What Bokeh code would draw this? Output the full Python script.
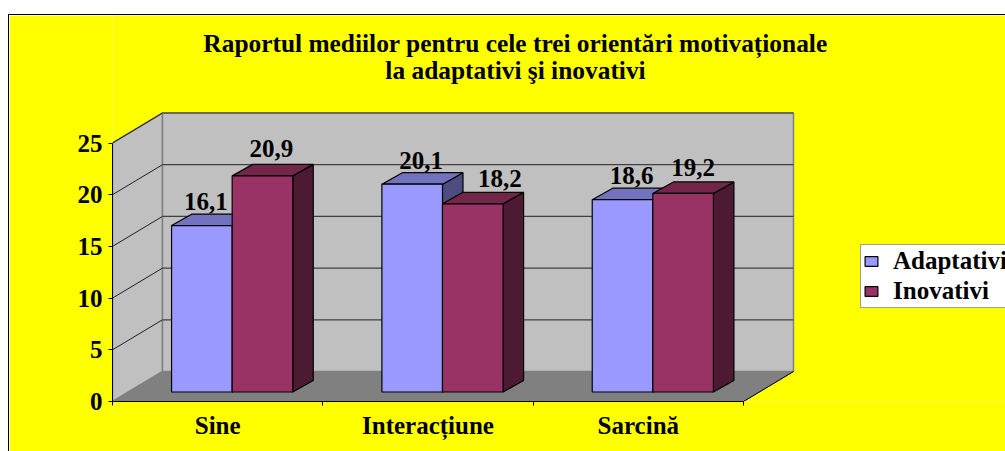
from bokeh.plotting import figure
from bokeh.models import (Range1d, LinearAxis, FixedTicker, Legend, LegendItem, Label)
from bokeh.core.properties import value
from bokeh.embed import file_html
from bokeh.resources import INLINE

categories = ["Sine", "Interacțiune", "Sarcină"]
adaptativi = [16.1, 20.1, 18.6]
inovativi = [20.9, 18.2, 19.2]
y_ticks = [0, 5, 10, 15, 20, 25]
title_lines = ["Raportul mediilor pentru cele trei orientări motivaționale",
               "la adaptativi şi inovativi"]
series_names = ["Adaptativi", "Inovativi"]

FONT = "Liberation Serif"
PX_X = 210.33   # pixels per category
PX_Y = 10.34    # pixels per value unit
LEFT, BOTTOM, TOP, RIGHT = 112, 401, 15, 1006
DX, DY = 50 / PX_X, 30 / PX_Y            # depth of the box
BDX, BDY = 20.5 / PX_X, 11.5 / PX_Y      # depth of a bar
BAR_W = 60.6 / PX_X
BAR_SHIFT = 14.5 / PX_X
BASE = 9.5 / PX_Y
YMAX = 25
N = len(categories)

X = lambda px: (px - LEFT) / PX_X
Y = lambda py: (BOTTOM - py) / PX_Y

p = figure(width=997, height=437, output_backend="svg", toolbar_location=None,
           x_range=Range1d(0, X(RIGHT)), y_range=Range1d(0, Y(TOP)),
           min_border_left=103, min_border_right=0, min_border_top=0,
           min_border_bottom=51, x_axis_location=None, y_axis_location=None,
           background_fill_color="#ffff00", border_fill_color="#ffff00",
           outline_line_color=None, margin=(14, 0, 0, 8),
           styles={"border-left": "1px solid #000", "border-top": "1px solid #000",
                   "box-sizing": "border-box"})
p.grid.visible = False

# walls and floor
p.patch([0, DX, DX, 0], [0, DY, YMAX + DY, YMAX], fill_color="#c0c0c0", line_color="#808080", line_width=1.5)
p.patch([DX, N + DX, N + DX, DX], [DY, DY, YMAX + DY, YMAX + DY], fill_color="#c0c0c0", line_color="#808080", line_width=1.5)
p.patch([0, N, N + DX, DX], [0, 0, DY, DY], fill_color="#808080", line_color="#808080")
p.line([N, N + DX], [0, DY], line_color="#000000", line_width=1)
for v in y_ticks[1:]:
    p.line([0, DX], [v, v + DY], line_color="#202020", line_width=1)
    p.line([DX, N + DX], [v + DY, v + DY], line_color="#404040", line_width=1.2)

# bars
colors = {"front": ["#9999ff", "#993366"], "top": ["#7272bf", "#732649"], "side": ["#4c4c80", "#4d1a33"]}
renderers = []
for i in range(N):
    cx = i + 0.5 + BAR_SHIFT
    for s, vals in enumerate([adaptativi, inovativi]):
        v = vals[i]
        x0 = cx + (s - 1) * BAR_W
        x1 = x0 + BAR_W
        y0, y1 = BASE, BASE + v
        p.patch([x1, x1 + BDX, x1 + BDX, x1], [y0, y0 + BDY, y1 + BDY, y1],
                fill_color=colors["side"][s], line_color="#000000", line_width=1.2)
        p.patch([x0, x1, x1 + BDX, x0 + BDX], [y1, y1, y1 + BDY, y1 + BDY],
                fill_color=colors["top"][s], line_color="#000000", line_width=1.2)
        r = p.patch([x0, x1, x1, x0], [y0, y0, y1, y1],
                    fill_color=colors["front"][s], line_color="#000000", line_width=1.2)
        if i == 0:
            renderers.append(r)

# value labels
label_dx = [[4, 9], [9, 27], [9, 10]]
label_dy = [24, 27, 24, 25, 24, 26]
xs, ys, txt = [], [], []
k = 0
for i in range(N):
    for s, vals in enumerate([adaptativi, inovativi]):
        xs.append(i + 0.5 + BAR_SHIFT + (s - 0.5) * BAR_W + label_dx[i][s] / PX_X)
        ys.append(BASE + vals[i] + label_dy[k] / PX_Y)
        txt.append(str(vals[i]).replace(".", ","))
        k += 1
p.text(xs, ys, txt, text_font=value(FONT), text_font_style="bold", text_font_size="25px",
       text_align="center", text_baseline="alphabetic", text_color="#000000")

# axes
yax = LinearAxis(ticker=FixedTicker(ticks=y_ticks), bounds=(0, YMAX),
                 major_label_text_font=FONT, major_label_text_font_style="bold",
                 major_label_text_font_size="25px", major_label_text_color="#000000",
                 major_tick_in=0, major_tick_out=4, minor_tick_line_color=None,
                 axis_line_color="#000000", major_tick_line_color="#000000",
                 major_label_standoff=6)
xax = LinearAxis(ticker=FixedTicker(ticks=[i + 0.5 for i in range(N)], minor_ticks=list(range(N + 1))),
                 bounds=(0, N),
                 major_label_overrides={i + 0.5: c for i, c in enumerate(categories)},
                 major_label_text_font=FONT, major_label_text_font_style="bold",
                 major_label_text_font_size="25px", major_label_text_color="#000000",
                 major_tick_line_color=None, minor_tick_in=0, minor_tick_out=4,
                 minor_tick_line_color="#000000", axis_line_color="#000000",
                 major_label_standoff=4)
p.add_layout(yax, "left")
p.add_layout(xax, "below")

# title
for line, py in zip(title_lines, [42, 69]):
    p.add_layout(Label(x=X(515), y=Y(py), text=line, text_font=FONT, text_font_style="bold",
                       text_font_size="25.4px", text_align="center", text_baseline="middle",
                       text_color="#000000"))

# legend
legend = Legend(items=[LegendItem(label=n, renderers=[r]) for n, r in zip(series_names, renderers)],
                location=(860 - LEFT, BOTTOM - 308), orientation="vertical",
                label_text_font=FONT, label_text_font_style="bold", label_text_font_size="25px",
                label_text_color="#000000", glyph_width=16, glyph_height=12, label_standoff=14,
                spacing=2, padding=2, margin=0, background_fill_color="#ffffff", background_fill_alpha=1,
                border_line_color="#404040", border_line_width=1.5)
p.add_layout(legend, "center")

open("out.html", "w").write(file_html(p, INLINE))
